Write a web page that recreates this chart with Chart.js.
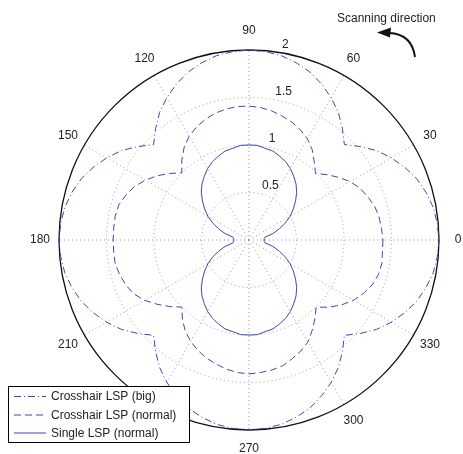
<!DOCTYPE html>
<html>
<head>
<meta charset="utf-8">
<script src="https://cdn.jsdelivr.net/npm/chart.js@4.4.1/dist/chart.umd.min.js"></script>
<style>
  html, body { margin: 0; padding: 0; background: #fff; }
  #wrap { position: relative; width: 463px; height: 454px; }
</style>
</head>
<body>
<div id="wrap"><canvas id="polarChart"></canvas></div>
<script>
// angles in degrees, counter-clockwise from the right (0 = right, 90 = up)
const angles = [
  0, 5, 10, 15, 20, 25, 30, 35, 40, 45, 50, 55, 60, 65, 70, 75, 80, 85,
  90, 95, 100, 105, 110, 115, 120, 125, 130, 135, 140, 145, 150, 155, 160, 165, 170, 175,
  180, 185, 190, 195, 200, 205, 210, 215, 220, 225, 230, 235, 240, 245, 250, 255, 260, 265,
  270, 275, 280, 285, 290, 295, 300, 305, 310, 315, 320, 325, 330, 335, 340, 345, 350, 355
];

const crosshairBig = [
  2.00, 1.99, 1.97, 1.93, 1.88, 1.81, 1.73, 1.64, 1.53, 1.42, 1.53, 1.64, 1.73, 1.81, 1.88, 1.93, 1.97, 1.99,
  2.00, 1.99, 1.97, 1.93, 1.88, 1.81, 1.73, 1.64, 1.53, 1.42, 1.53, 1.64, 1.73, 1.81, 1.88, 1.93, 1.97, 1.99,
  2.00, 1.99, 1.97, 1.93, 1.88, 1.81, 1.73, 1.64, 1.53, 1.42, 1.53, 1.64, 1.73, 1.81, 1.88, 1.93, 1.97, 1.99,
  2.00, 1.99, 1.97, 1.93, 1.88, 1.81, 1.73, 1.64, 1.53, 1.42, 1.53, 1.64, 1.73, 1.81, 1.88, 1.93, 1.97, 1.99
];

const crosshairNormal = [
  1.41, 1.40, 1.39, 1.37, 1.33, 1.29, 1.23, 1.15, 1.07, 0.99, 1.07, 1.16, 1.23, 1.28, 1.32, 1.35, 1.38, 1.40,
  1.41, 1.41, 1.40, 1.38, 1.35, 1.31, 1.26, 1.19, 1.10, 1.00, 1.09, 1.18, 1.26, 1.33, 1.38, 1.42, 1.43, 1.43,
  1.43, 1.43, 1.43, 1.41, 1.38, 1.34, 1.27, 1.18, 1.09, 1.00, 1.09, 1.17, 1.23, 1.28, 1.32, 1.35, 1.38, 1.40,
  1.41, 1.40, 1.39, 1.37, 1.33, 1.29, 1.24, 1.16, 1.08, 1.00, 1.10, 1.19, 1.27, 1.33, 1.38, 1.41, 1.42, 1.41
];

const singleNormal = [
  0.16, 0.16, 0.17, 0.26, 0.34, 0.42, 0.50, 0.57, 0.64, 0.71, 0.77, 0.82, 0.87, 0.91, 0.94, 0.97, 0.98, 1.00,
  1.00, 1.00, 0.98, 0.97, 0.94, 0.91, 0.87, 0.82, 0.77, 0.71, 0.64, 0.57, 0.50, 0.42, 0.34, 0.26, 0.17, 0.16,
  0.16, 0.16, 0.17, 0.26, 0.34, 0.42, 0.50, 0.57, 0.64, 0.71, 0.77, 0.82, 0.87, 0.91, 0.94, 0.97, 0.98, 1.00,
  1.00, 1.00, 0.98, 0.97, 0.94, 0.91, 0.87, 0.82, 0.77, 0.71, 0.64, 0.57, 0.50, 0.42, 0.34, 0.26, 0.17, 0.16
];

const angleTicks = [0, 30, 60, 90, 120, 150, 180, 210, 240, 270, 300, 330];
const radialTicks = [0.5, 1, 1.5, 2];
const seriesNames = ["Crosshair LSP (big)", "Crosshair LSP (normal)", "Single LSP (normal)"];

const lineColor = "#3a48b0";
const textFont = "12px 'Liberation Sans', Arial, Helvetica, sans-serif";

// radar goes clockwise, so walk the angles backwards to get a counter-clockwise plot
function toRadarOrder(arr) {
    return arr.map((_, i) => arr[(arr.length - i) % arr.length]);
}

const radarLabels = toRadarOrder(angles);

const polarDecor = {
    id: "polarDecor",
    afterDraw(chart) {
        const ctx = chart.ctx;
        const scale = chart.scales.r;
        ctx.save();
        ctx.font = textFont;
        ctx.fillStyle = "#222";

        // angle labels, centred just outside the outer ring
        ctx.textAlign = "center";
        ctx.textBaseline = "middle";
        angleTicks.forEach(a => {
            const idx = radarLabels.indexOf(a);
            const p = scale.getPointPosition(idx, scale.drawingArea * 1.1);
            ctx.fillText(String(a), p.x, p.y);
        });

        // radius labels along ~82 degrees
        ctx.textAlign = "left";
        ctx.textBaseline = "alphabetic";
        const rad = 82 * Math.PI / 180;
        radialTicks.forEach(v => {
            const d = scale.getDistanceFromCenterForValue(v);
            ctx.fillText(String(v), scale.xCenter + d * Math.cos(rad) + 6.5, scale.yCenter - d * Math.sin(rad) - 3.5);
        });

        // scanning direction note + arrow
        ctx.fillText("Scanning direction", 337, 21.5);
        ctx.strokeStyle = "#111";
        ctx.lineWidth = 2;
        ctx.beginPath();
        ctx.moveTo(415, 57);
        ctx.quadraticCurveTo(412, 34, 389, 33);
        ctx.stroke();
        ctx.fillStyle = "#111";
        ctx.beginPath();
        ctx.moveTo(377, 32.5);
        ctx.lineTo(391, 27.5);
        ctx.lineTo(390, 37.5);
        ctx.closePath();
        ctx.fill();

        // legend box
        ctx.fillStyle = "#fff";
        ctx.fillRect(8.5, 386.5, 181, 56);
        ctx.strokeStyle = "#000";
        ctx.lineWidth = 1;
        ctx.setLineDash([]);
        ctx.strokeRect(8.5, 386.5, 181, 56);
        const rows = [396, 414.5, 432.5];
        chart.data.datasets.forEach((ds, i) => {
            ctx.strokeStyle = ds.borderColor;
            ctx.lineWidth = ds.borderWidth;
            ctx.setLineDash(ds.borderDash || []);
            ctx.beginPath();
            ctx.moveTo(14, rows[i] + 0.5);
            ctx.lineTo(46, rows[i] + 0.5);
            ctx.stroke();
            ctx.setLineDash([]);
            ctx.fillStyle = "#222";
            ctx.textBaseline = "middle";
            ctx.fillText(ds.label, 51, rows[i] + 1);
        });
        ctx.restore();
    }
};

new Chart(document.getElementById("polarChart"), {
    type: "radar",
    data: {
        labels: radarLabels,
        datasets: [
            {
                label: seriesNames[0],
                data: toRadarOrder(crosshairBig),
                borderColor: lineColor,
                borderWidth: 1,
                borderDash: [7, 3, 1, 3],
                fill: false,
                pointRadius: 0,
                clip: 10
            },
            {
                label: seriesNames[1],
                data: toRadarOrder(crosshairNormal),
                borderColor: lineColor,
                borderWidth: 1,
                borderDash: [7, 4],
                fill: false,
                pointRadius: 0,
                clip: 10
            },
            {
                label: seriesNames[2],
                data: toRadarOrder(singleNormal),
                borderColor: lineColor,
                borderWidth: 1,
                fill: false,
                pointRadius: 0,
                clip: 10
            }
        ]
    },
    options: {
        responsive: true,
        maintainAspectRatio: false,
        animation: false,
        layout: { padding: { left: 59, right: 24, top: 50, bottom: 24 } },
        elements: { line: { tension: 0 } },
        plugins: { legend: { display: false }, tooltip: { enabled: false } },
        scales: {
            r: {
                min: 0,
                max: 2,
                startAngle: 90,
                ticks: { stepSize: 0.5, display: false },
                pointLabels: { display: false },
                grid: {
                    circular: true,
                    color: c => (c.index === 4 ? "#111" : "#9a9a9a"),
                    lineWidth: c => (c.index === 4 ? 1.3 : 1)
                },
                border: { dash: c => (c.index === 4 ? [] : [1, 3]) },
                angleLines: {
                    color: "#9a9a9a",
                    lineWidth: c => (c.index % 6 === 0 ? 1 : 0),
                    borderDash: [1, 3]
                }
            }
        }
    },
    plugins: [polarDecor]
});
</script>
</body>
</html>
